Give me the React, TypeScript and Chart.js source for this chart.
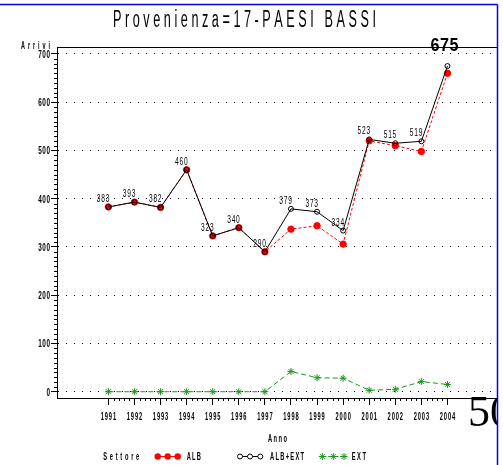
import React, { useEffect, useRef } from 'react';
import { Chart, registerables } from 'chart.js';

Chart.register(...registerables);

const years = [1991, 1992, 1993, 1994, 1995, 1996, 1997, 1998, 1999, 2000, 2001, 2002, 2003, 2004];
const albExt = [383, 393, 382, 460, 323, 340, 290, 379, 373, 334, 523, 515, 519, 675];
const alb = [383, 393, 382, 460, 323, 340, 290, 337, 344, 306, 520, 510, 498, 660];
const ext = [0, 0, 0, 0, 0, 0, 0, 42, 29, 28, 3, 5, 21, 15];
const yTicks = [0, 100, 200, 300, 400, 500, 600, 700];
const titleText = 'Provenienza=17-PAESI BASSI';
const yTitle = 'Arrivi';
const xTitle = 'Anno';
const legendTitle = 'Settore';
const seriesNames = ['ALB', 'ALB+EXT', 'EXT'];
const pageNumber = '50';

const FONT = '"Liberation Sans", Arial, sans-serif';
const RED = '#ff0000';
const BLACK = '#000000';
const GREEN = '#1a961a';

type TOpts = {
  size: number;
  sx: number;
  width?: number;
  gap?: number;
  align?: 'left' | 'center' | 'right';
  bold?: boolean;
  family?: string;
  color?: string;
};

function drawSpaced(ctx: CanvasRenderingContext2D, text: string, x: number, y: number, o: TOpts) {
  ctx.save();
  ctx.font = `${o.bold ? 'bold ' : ''}${o.size}px ${o.family || FONT}`;
  const chars = Array.from(text);
  const ws = chars.map((c) => ctx.measureText(c).width * o.sx);
  const sum = ws.reduce((a, b) => a + b, 0);
  let gap = o.gap ?? 0;
  if (o.width != null && chars.length > 1) gap = (o.width - sum) / (chars.length - 1);
  const total = sum + gap * (chars.length - 1);
  const align = o.align || 'left';
  let cx = align === 'left' ? x : align === 'center' ? x - total / 2 : x - total;
  ctx.fillStyle = o.color || '#000';
  ctx.textAlign = 'left';
  ctx.textBaseline = 'alphabetic';
  chars.forEach((c, i) => {
    ctx.save();
    ctx.translate(cx, y);
    ctx.scale(o.sx, 1);
    ctx.fillText(c, 0, 0);
    ctx.restore();
    cx += ws[i] + gap;
  });
  ctx.restore();
}

function drawStar(ctx: CanvasRenderingContext2D, x: number, y: number, r: number, color: string) {
  ctx.save();
  ctx.strokeStyle = color;
  ctx.lineWidth = 1;
  ctx.beginPath();
  for (let k = 0; k < 4; k++) {
    const a = (k * Math.PI) / 4;
    ctx.moveTo(x - r * Math.cos(a), y - r * Math.sin(a));
    ctx.lineTo(x + r * Math.cos(a), y + r * Math.sin(a));
  }
  ctx.stroke();
  ctx.restore();
}

const SMALL = { size: 11, sx: 0.52, bold: true };

const decorPlugin = {
  id: 'decor',
  afterDraw(chart: any) {
    const ctx: CanvasRenderingContext2D = chart.ctx;
    const xs = chart.scales.x;
    const ys = chart.scales.y;
    const area = chart.chartArea;

    // frame top line
    ctx.save();
    ctx.strokeStyle = '#000';
    ctx.lineWidth = 1;
    ctx.beginPath();
    ctx.moveTo(area.left, Math.round(area.top) + 0.5);
    ctx.lineTo(area.right, Math.round(area.top) + 0.5);
    ctx.stroke();

    // minor ticks y
    ctx.beginPath();
    for (let v = 10; v < 710; v += 10) {
      if (v % 100 === 0) continue;
      const py = Math.round(ys.getPixelForValue(v)) + 0.5;
      ctx.moveTo(area.left - 3, py);
      ctx.lineTo(area.left, py);
    }
    // minor ticks x
    for (let i = 0; i < years.length - 1; i++) {
      for (let k = 1; k < 5; k++) {
        const px = Math.round(xs.getPixelForValue(years[i] + k * 0.2)) + 0.5;
        ctx.moveTo(px, area.bottom);
        ctx.lineTo(px, area.bottom + 3);
      }
    }
    ctx.stroke();
    ctx.restore();

    // tick labels
    ys.ticks.forEach((t: any) => {
      const py = ys.getPixelForValue(t.value);
      drawSpaced(ctx, String(t.value), 50, py + 4, { ...SMALL, sx: 0.58, gap: 0.6, align: 'right' });
    });
    xs.ticks.forEach((t: any) => {
      const px = xs.getPixelForValue(t.value);
      drawSpaced(ctx, String(t.value), px, 419.5, { ...SMALL, gap: 0.9, align: 'center' });
    });

    // titles
    drawSpaced(ctx, titleText, 244.5, 27, { size: 23, sx: 0.55, width: 263, align: 'center' });
    drawSpaced(ctx, yTitle, 21, 48.5, { ...SMALL, size: 10.5, width: 29, align: 'left' });
    drawSpaced(ctx, xTitle, 277.5, 442, { ...SMALL, width: 19, align: 'center' });

    // data labels on ALB+EXT
    const meta = chart.getDatasetMeta(1);
    meta.data.forEach((pt: any, i: number) => {
      const v = albExt[i];
      if (i === albExt.length - 1) {
        drawSpaced(ctx, String(v), pt.x - 3, 51, { size: 19, sx: 0.85, width: 28, align: 'center', bold: true });
      } else {
        drawSpaced(ctx, String(v), pt.x + 1, pt.y - 5, { size: 11, sx: 0.6, gap: 0.8, align: 'right' });
      }
    });

    // legend
    const ly = 456;
    drawSpaced(ctx, legendTitle, 103.3, 460, { ...SMALL, width: 36, align: 'left' });
    ctx.save();
    ctx.lineWidth = 1;
    ctx.strokeStyle = RED;
    ctx.beginPath();
    ctx.moveTo(157.7, ly + 0.5);
    ctx.lineTo(177.7, ly + 0.5);
    ctx.stroke();
    ctx.fillStyle = RED;
    [157.7, 167.7, 177.7].forEach((x) => {
      ctx.beginPath();
      ctx.arc(x, ly + 0.5, 3.2, 0, Math.PI * 2);
      ctx.fill();
    });
    ctx.strokeStyle = BLACK;
    ctx.beginPath();
    ctx.moveTo(240, ly + 0.5);
    ctx.lineTo(260.3, ly + 0.5);
    ctx.stroke();
    ctx.fillStyle = '#fff';
    [240, 250, 260.3].forEach((x) => {
      ctx.beginPath();
      ctx.arc(x, ly + 0.5, 2.5, 0, Math.PI * 2);
      ctx.fill();
      ctx.stroke();
    });
    ctx.strokeStyle = GREEN;
    ctx.setLineDash([4, 2]);
    ctx.beginPath();
    ctx.moveTo(322.3, ly + 0.5);
    ctx.lineTo(344, ly + 0.5);
    ctx.stroke();
    ctx.setLineDash([]);
    ctx.restore();
    [322.3, 333.3, 344].forEach((x) => drawStar(ctx, x, ly + 0.5, 3.5, GREEN));
    drawSpaced(ctx, seriesNames[0], 186.7, 460, { ...SMALL, width: 14.3, align: 'left' });
    drawSpaced(ctx, seriesNames[1], 270, 460, { ...SMALL, width: 34, align: 'left' });
    drawSpaced(ctx, seriesNames[2], 351.7, 460, { ...SMALL, width: 14.3, align: 'left' });

    // clipped page number
    ctx.save();
    ctx.beginPath();
    ctx.rect(0, 0, 497, 465);
    ctx.clip();
    ctx.fillStyle = '#000';
    ctx.font = '44px "Liberation Serif", "Times New Roman", serif';
    ctx.textAlign = 'left';
    ctx.textBaseline = 'alphabetic';
    ctx.fillText(pageNumber, 468, 426);
    ctx.restore();

    // blue page frame
    ctx.save();
    ctx.strokeStyle = '#0000ff';
    ctx.lineWidth = 1.5;
    ctx.beginPath();
    ctx.moveTo(0, 4.5);
    ctx.lineTo(497.5, 4.5);
    ctx.moveTo(497.5, 4.5);
    ctx.lineTo(497.5, 465);
    ctx.stroke();
    ctx.restore();
  },
};

export default function App() {
  const ref = useRef<HTMLCanvasElement | null>(null);

  useEffect(() => {
    if (!ref.current) return;
    const toXY = (arr: number[]) => arr.map((v, i) => ({ x: years[i], y: v }));
    const chart = new Chart(ref.current, {
      type: 'line',
      data: {
        datasets: [
          {
            label: seriesNames[0],
            data: toXY(alb),
            borderColor: RED,
            backgroundColor: RED,
            borderWidth: 1,
            borderDash: [3, 2],
            pointStyle: 'circle',
            pointRadius: 3.2,
            pointBackgroundColor: RED,
            pointBorderColor: RED,
            pointBorderWidth: 1,
            tension: 0,
            order: 1,
          },
          {
            label: seriesNames[1],
            data: toXY(albExt),
            borderColor: BLACK,
            backgroundColor: 'rgba(0,0,0,0)',
            borderWidth: 1,
            pointStyle: 'circle',
            pointRadius: 2.5,
            pointBackgroundColor: 'rgba(0,0,0,0)',
            pointBorderColor: BLACK,
            pointBorderWidth: 1,
            tension: 0,
            order: 0,
          },
          {
            label: seriesNames[2],
            data: toXY(ext),
            borderColor: GREEN,
            backgroundColor: GREEN,
            borderWidth: 1,
            borderDash: [5, 3],
            pointStyle: 'star',
            pointRadius: 3.5,
            pointBorderColor: GREEN,
            pointBorderWidth: 1,
            tension: 0,
            order: 2,
          },
        ],
      },
      options: {
        responsive: false,
        animation: false,
        devicePixelRatio: 1,
        layout: { padding: { left: 0, top: 47, right: 6, bottom: 0 } },
        plugins: {
          legend: { display: false },
          title: { display: false },
          tooltip: { enabled: false },
        },
        scales: {
          x: {
            type: 'linear',
            min: 1989.03,
            max: 2005.9,
            afterBuildTicks: (scale: any) => {
              scale.ticks = years.map((v) => ({ value: v }));
            },
            afterFit: (scale: any) => {
              scale.height = 67;
            },
            ticks: { display: false },
            grid: {
              display: true,
              drawOnChartArea: false,
              drawTicks: true,
              tickLength: 7,
              tickColor: '#000',
              color: '#000',
            },
            border: { display: true, color: '#000', width: 1 },
          },
          y: {
            type: 'linear',
            min: -13,
            max: 714.5,
            afterBuildTicks: (scale: any) => {
              scale.ticks = yTicks.map((v) => ({ value: v }));
            },
            afterFit: (scale: any) => {
              scale.width = 57;
            },
            ticks: { display: false },
            grid: {
              display: true,
              drawOnChartArea: true,
              drawTicks: true,
              tickLength: 6,
              tickColor: '#000',
              color: '#000',
              lineWidth: 1,
            },
            border: { display: true, color: '#000', width: 1, dash: [1, 7] },
          },
        },
      },
      plugins: [decorPlugin],
    });
    return () => chart.destroy();
  }, []);

  return (
    <div style={{ position: 'absolute', left: 0, top: 0, width: 503, height: 465, background: '#fff' }}>
      <canvas ref={ref} width={503} height={465} />
    </div>
  );
}
